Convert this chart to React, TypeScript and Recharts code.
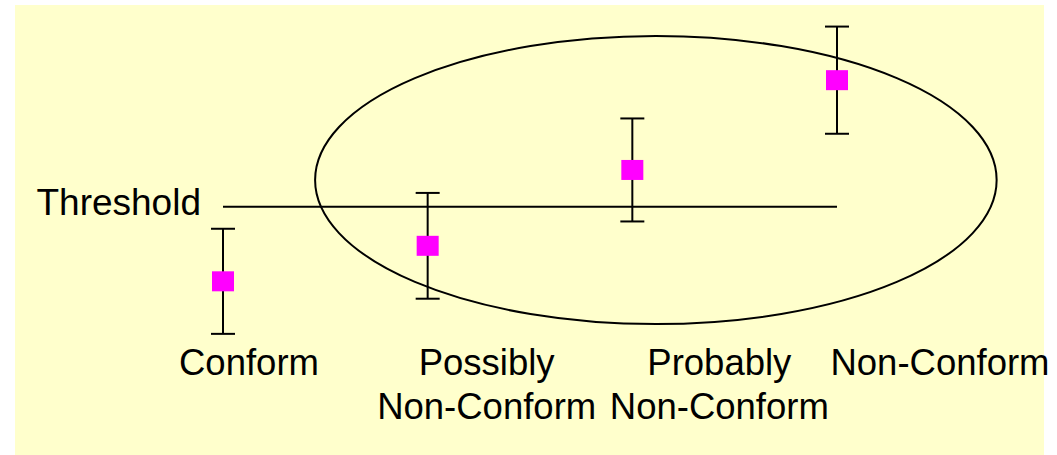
import React from "react";
import {
  ScatterChart,
  Scatter,
  XAxis,
  YAxis,
  ErrorBar,
  ReferenceLine,
  ReferenceArea,
} from "recharts";

// assessment classes along the x axis
const categories = ["Conform", "Possibly\nNon-Conform", "Probably\nNon-Conform", "Non-Conform"];
// measured level (arbitrary units, 0-100) and its uncertainty
const levels = [20.6, 30.8, 52.6, 78.4];
const uncertainty = [15.1, 15.2, 14.8, 15.4];
const threshold = 42;
// ellipse drawn round the classes that may exceed the threshold
const ellipseX = [0.45, 3.78];
const ellipseY = [8.3, 91.1];

const xTicks = categories.map((_, i) => i);
const data = categories.map((name, i) => ({
  x: i,
  y: levels[i],
  err: uncertainty[i],
  name,
}));

const FONT = '"Liberation Sans", Arial, sans-serif';
const LABEL_SHIFT = [26, 59, 87, 103];

function CategoryTick({ x, y, payload }: { x: number; y: number; payload: { value: number } }) {
  const idx = xTicks.indexOf(payload.value);
  const lines = (categories[idx] ?? "").split("\n");
  const cx = x + (LABEL_SHIFT[idx] ?? 0);
  return (
    <text x={cx} y={y} textAnchor="middle" fontSize={36.5} fontFamily={FONT} fill="#000">
      {lines.map((l, i) => (
        <tspan key={i} x={cx} dy={i === 0 ? 14 : 44}>
          {l}
        </tspan>
      ))}
    </text>
  );
}

function SquareMarker({ cx, cy }: { cx?: number; cy?: number }) {
  if (cx == null || cy == null) return null;
  return <rect x={cx - 11} y={cy - 10} width={22} height={20} fill="#FF00FF" />;
}

export default function App() {
  return (
    <div style={{ position: "absolute", left: 0, top: 0, width: 1057, height: 455 }}>
      <div
        style={{
          position: "absolute",
          left: 15,
          top: 5,
          width: 1029,
          height: 450,
          background: "#FFFFCC",
        }}
      />
      <div style={{ position: "absolute", left: 15, top: 5 }}>
        <ScatterChart
          width={1042}
          height={448}
          margin={{ top: 0, right: 220, bottom: 0, left: 208 }}
        >
          <XAxis
            type="number"
            dataKey="x"
            domain={[0, 3]}
            ticks={xTicks}
            height={100}
            axisLine={false}
            tickLine={false}
            interval={0}
            tick={(p: any) => <CategoryTick {...p} />}
          />
          <YAxis type="number" dataKey="y" domain={[0, 100]} hide />
          <ReferenceArea
            x1={ellipseX[0]}
            x2={ellipseX[1]}
            y1={ellipseY[0]}
            y2={ellipseY[1]}
            ifOverflow="visible"
            shape={(p: any) => (
              <ellipse
                cx={p.x + p.width / 2}
                cy={p.y + p.height / 2}
                rx={Math.abs(p.width) / 2}
                ry={Math.abs(p.height) / 2}
                fill="none"
                stroke="#000"
                strokeWidth={2}
              />
            )}
          />
          <ReferenceLine
            segment={[
              { x: 0, y: threshold },
              { x: 3, y: threshold },
            ]}
            ifOverflow="visible"
            shape={(p: any) => (
              <g>
                <line x1={p.x1} y1={p.y1} x2={p.x2} y2={p.y2} stroke="#000" strokeWidth={2} />
                <text
                  x={Math.min(p.x1, p.x2) - 22}
                  y={p.y1 + 8}
                  textAnchor="end"
                  fontSize={37}
                  fontFamily={FONT}
                  fill="#000"
                >
                  Threshold
                </text>
              </g>
            )}
          />
          <Scatter data={data} dataKey="y" shape={<SquareMarker />} isAnimationActive={false}>
            <ErrorBar dataKey="err" direction="y" width={12} stroke="#000" strokeWidth={2} />
          </Scatter>
        </ScatterChart>
      </div>
    </div>
  );
}
